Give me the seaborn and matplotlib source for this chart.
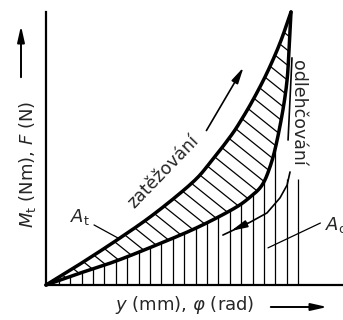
import numpy as np
import pandas as pd
import matplotlib
matplotlib.use("Agg")
import matplotlib.pyplot as plt
import seaborn as sns
from matplotlib.collections import LineCollection

# --- data (x: deflection, y: load, peak = 10/10) ---
load_x = [0, 1.27, 2.90, 4.41, 5.96, 6.69, 7.51, 7.92, 8.45, 9.02, 9.55, 10.0]
load_y = [0, 0.70, 1.65, 2.60, 3.74, 4.47, 5.42, 5.97, 6.78, 7.77, 8.86, 10.0]
unload_x = [0, 1.27, 2.65, 4.00, 6.04, 7.63, 8.33, 8.82, 9.14, 9.39, 9.67, 9.84, 9.92, 10.0]
unload_y = [0, 0.40, 0.81, 1.28, 2.05, 2.78, 3.22, 3.66, 4.32, 5.13, 6.41, 7.51, 8.61, 10.0]

x_label = r"$y$ (mm), $\varphi$ (rad)"
y_label = r"$M_\mathrm{t}$ (Nm), $F$ (N)"
txt_load = "zatěžování"
txt_unload = "odlehčování"


def smooth(xs, ys, n=20):
    # catmull-rom through the read points
    p = np.column_stack([xs, ys]).astype(float)
    p = np.vstack([2 * p[0] - p[1], p, 2 * p[-1] - p[-2]])
    out = []
    t = np.linspace(0, 1, n, endpoint=False)[:, None]
    for i in range(1, len(p) - 2):
        p0, p1, p2, p3 = p[i - 1], p[i], p[i + 1], p[i + 2]
        out.append(0.5 * ((2 * p1) + (-p0 + p2) * t + (2 * p0 - 5 * p1 + 4 * p2 - p3) * t ** 2
                          + (-p0 + 3 * p1 - 3 * p2 + p3) * t ** 3))
    out.append(p[-2][None, :])
    out = np.vstack(out)
    return out[:, 0], out[:, 1]


lx, ly = smooth(load_x, load_y)
ux, uy = smooth(unload_x, unload_y)
df = pd.concat([
    pd.DataFrame({"x": lx, "y": ly, "curve": "load"}),
    pd.DataFrame({"x": ux, "y": uy, "curve": "unload"}),
])

sns.set_theme(style="white")
plt.rcParams["font.family"] = ["DejaVu Sans"]
plt.rcParams["mathtext.fontset"] = "dejavusans"

fig = plt.figure(figsize=(3.43, 3.2), dpi=100)
ax = fig.add_axes([46 / 343, 35 / 320, 297 / 343, 275 / 320])

sns.lineplot(data=df, x="x", y="y", units="curve", estimator=None, sort=False,
             color="black", lw=2.5, ax=ax, legend=False, clip_on=False)
ax.set_xlabel("")
ax.set_ylabel("")

# diagonal hatching of the loop (A_t)
poly = ax.fill(np.r_[lx, ux[::-1]], np.r_[ly, uy[::-1]], facecolor="none", edgecolor="none")[0]
m = 0.72
segs = [[(0, c), (11, c - m * 11)] for c in np.arange(0.3, 18, 0.55)]
lc = LineCollection(segs, colors="black", linewidths=0.9)
ax.add_collection(lc)
lc.set_clip_path(poly)

# vertical hatching under the unloading curve (A_o)
vx = np.arange(10.29, 0.2, -0.465)
vtop = np.where(vx < 9.5, np.interp(vx, ux, uy), 3.9)
ax.vlines(vx, 0, vtop, colors="black", lw=0.9)

ax.set_xlim(0, 297 / 24.5)
ax.set_ylim(0, 275 / 27.3)
ax.set_xticks([])
ax.set_yticks([])
for s in ["top", "right"]:
    ax.spines[s].set_visible(False)
for s in ["left", "bottom"]:
    ax.spines[s].set_linewidth(1.6)
    ax.spines[s].set_color("black")
ax.spines["left"].set_bounds(0, 10.0)

# labels inside
ax.text(0.98, 2.31, r"$A_\mathrm{t}$", fontsize=13, ha="left", va="baseline")
ax.plot([1.96, 2.94], [2.20, 1.72], color="black", lw=0.9)
ax.text(11.4, 2.01, r"$A_\mathrm{o}$", fontsize=13, ha="left", va="baseline", clip_on=False)
ax.plot([9.06, 11.2], [1.36, 2.27], color="black", lw=0.9)

ax.text(4.78, 4.14, txt_load, fontsize=12.5, rotation=46, ha="center", va="center",
        rotation_mode="anchor")
ax.text(10.3, 6.3, txt_unload, fontsize=12.5, rotation=-90, ha="center", va="center",
        rotation_mode="anchor")

# direction arrows
hs = "-|>,head_length=0.8,head_width=0.18"
ax.annotate("", xy=(8.12, 8.06), xytext=(6.49, 5.57),
            arrowprops=dict(arrowstyle=hs, color="black", lw=1.2))
ax.plot([10.04, 9.88], [8.32, 5.31], color="black", lw=1.2, clip_on=False)
ax_x = [9.96, 9.84, 9.55, 9.02, 8.33, 7.22]
ax_y = [4.14, 3.66, 3.19, 2.64, 2.30, 1.83]
ax.plot(ax_x, ax_y, color="black", lw=1.2)
ax.annotate("", xy=(7.45, 1.94), xytext=(8.33, 2.30),
            arrowprops=dict(arrowstyle=hs, color="black", lw=1.2))

# axis titles with arrows
fig.text(185, 15, x_label, fontsize=13, ha="center", va="center", transform=None)
fig.text(27, 156, y_label, fontsize=13, ha="center", va="center", rotation=90, transform=None)
ax.annotate("", xy=(330, 13), xytext=(268, 13), xycoords="figure pixels", textcoords="figure pixels",
            arrowprops=dict(arrowstyle=hs, color="black", lw=1.4))
ax.annotate("", xy=(21, 297), xytext=(21, 240), xycoords="figure pixels", textcoords="figure pixels",
            arrowprops=dict(arrowstyle=hs, color="black", lw=1.4))

fig.savefig("out.png", dpi=100)
